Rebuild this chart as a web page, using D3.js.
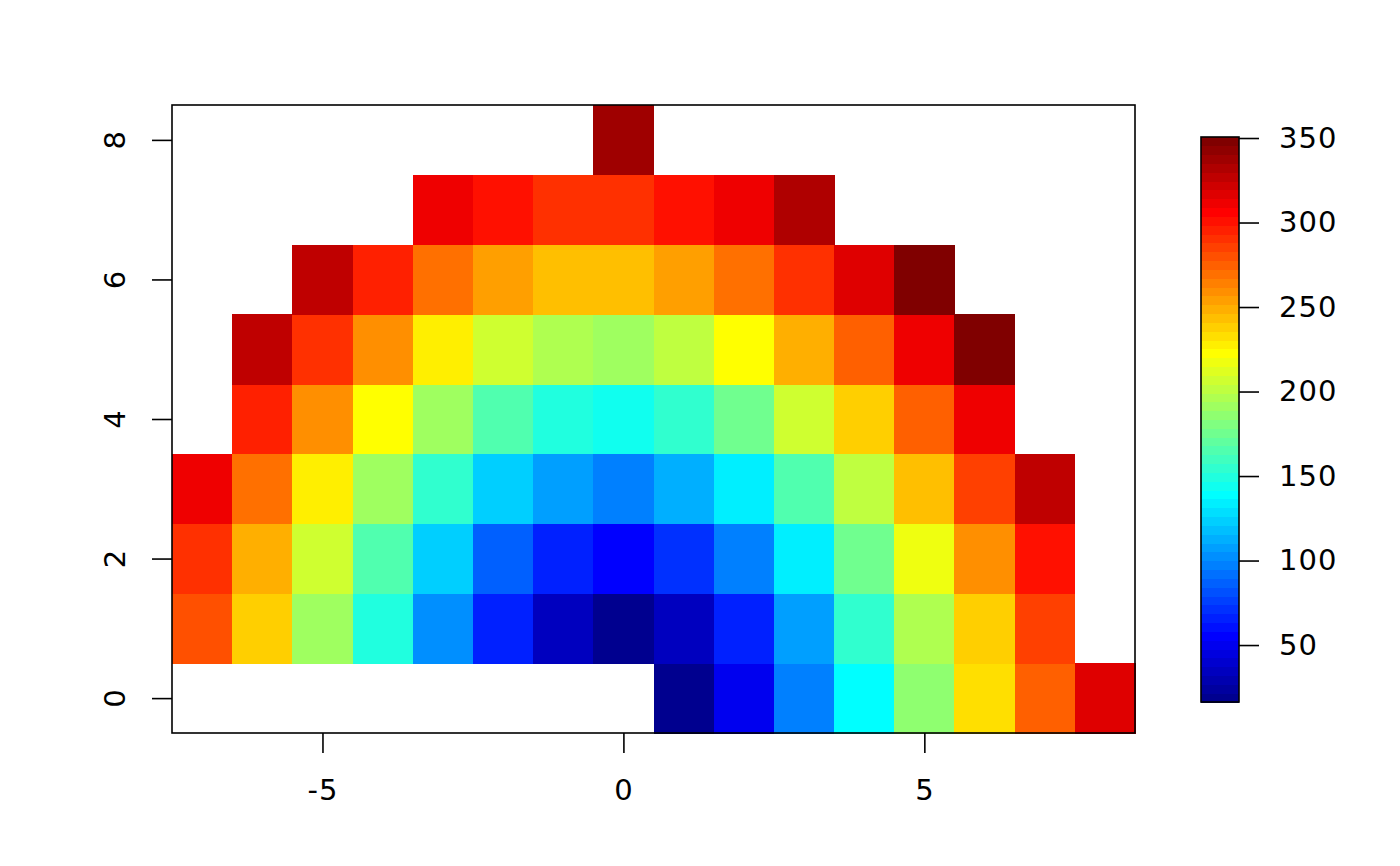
<!DOCTYPE html>
<html>
<head>
<meta charset="utf-8">
<script src="https://cdn.jsdelivr.net/npm/d3@7"></script>
<style>
  html, body { margin: 0; padding: 0; background: #fff; }
  svg { display: block; }
  text { font-family: "DejaVu Sans", sans-serif; fill: #000; }
</style>
</head>
<body>
<svg id="chart" width="1400" height="866"></svg>
<script>
// ---- data ----
const xValues = [-7, -6, -5, -4, -3, -2, -1, 0, 1, 2, 3, 4, 5, 6, 7, 8];
const yValues = [0, 1, 2, 3, 4, 5, 6, 7, 8];
// one row per y value, one entry per x value (null = empty cell)
const row0 = [null, null, null, null, null, null, null, null, 16.3, 50.3, 97.3, 139.1, 186.1, 233.1, 274.9, 316.6];
const row1 = [280.1, 238.3, 191.3, 149.5, 102.5, 65.9, 34.6, 18.9, 34.6, 65.9, 107.7, 154.7, 196.5, 238.3, 285.3, null];
const row2 = [290.5, 248.7, 207.0, 165.2, 123.4, 86.8, 65.9, 55.5, 71.1, 97.3, 133.8, 175.6, 217.4, 259.2, 301.0, null];
const row3 = [311.4, 269.6, 227.8, 191.3, 154.7, 123.4, 107.7, 97.3, 112.9, 133.8, 165.2, 201.7, 243.5, 285.3, 327.1, null];
const row4 = [null, 295.8, 259.2, 222.6, 191.3, 165.2, 149.5, 144.3, 154.7, 175.6, 207.0, 238.3, 274.9, 311.4, null, null];
const row5 = [null, 327.1, 290.5, 259.2, 227.8, 207.0, 196.5, 191.3, 201.7, 222.6, 248.7, 274.9, 311.4, 348.0, null, null];
const row6 = [null, null, 327.1, 295.8, 269.6, 254.0, 243.5, 243.5, 254.0, 269.6, 290.5, 316.6, 350.6, null, null, null];
const row7 = [null, null, null, null, 311.4, 301.0, 290.5, 290.5, 301.0, 311.4, 332.3, null, null, null, null, null];
const row8 = [null, null, null, null, null, null, null, 337.5, null, null, null, null, null, null, null, null];
const zRows = [row0, row1, row2, row3, row4, row5, row6, row7, row8];

const xTicks = [-5, 0, 5];
const yTicks = [0, 2, 4, 6, 8];
const legendTicks = [50, 100, 150, 200, 250, 300, 350];

// ---- palette (tim.colors, 64 levels) ----
const palette = [
  "#00008F","#00009F","#0000AF","#0000BF","#0000CF","#0000DF","#0000EF","#0000FF",
  "#0010FF","#0020FF","#0030FF","#0040FF","#0050FF","#0060FF","#0070FF","#0080FF",
  "#008FFF","#009FFF","#00AFFF","#00BFFF","#00CFFF","#00DFFF","#00EFFF","#00FFFF",
  "#10FFEF","#20FFDF","#30FFCF","#40FFBF","#50FFAF","#60FF9F","#70FF8F","#80FF80",
  "#8FFF70","#9FFF60","#AFFF50","#BFFF40","#CFFF30","#DFFF20","#EFFF10","#FFFF00",
  "#FFEF00","#FFDF00","#FFCF00","#FFBF00","#FFAF00","#FF9F00","#FF8F00","#FF8000",
  "#FF7000","#FF6000","#FF5000","#FF4000","#FF3000","#FF2000","#FF1000","#FF0000",
  "#EF0000","#DF0000","#CF0000","#BF0000","#AF0000","#9F0000","#8F0000","#800000"
];
const nColors = palette.length;

// ---- build cells ----
const cells = [];
yValues.forEach((y, j) => {
  xValues.forEach((x, i) => {
    const v = zRows[j][i];
    if (v !== null) cells.push({ x, y, v });
  });
});
const zExtent = d3.extent(cells, d => d.v);
const colorScale = d3.scaleQuantize().domain(zExtent).range(palette);

// ---- layout ----
const FONT = 29;
const svg = d3.select("#chart");
const plot = { left: 172, right: 1135, top: 105, bottom: 733 };
const xScale = d3.scaleLinear().domain([-7.5, 8.5]).range([plot.left, plot.right]);
const yScale = d3.scaleLinear().domain([-0.5, 8.5]).range([plot.bottom, plot.top]);

svg.append("g").selectAll("rect").data(cells).join("rect")
  .attr("x", d => xScale(d.x - 0.5))
  .attr("y", d => yScale(d.y + 0.5))
  .attr("width", d => xScale(d.x + 0.5) - xScale(d.x - 0.5) + 0.5)
  .attr("height", d => yScale(d.y - 0.5) - yScale(d.y + 0.5) + 0.5)
  .attr("fill", d => colorScale(d.v))
  .attr("shape-rendering", "crispEdges");

// box
svg.append("rect")
  .attr("x", plot.left).attr("y", plot.top)
  .attr("width", plot.right - plot.left).attr("height", plot.bottom - plot.top)
  .attr("fill", "none").attr("stroke", "#000").attr("stroke-width", 1.6);

// x axis
const xAxis = d3.axisBottom(xScale).tickValues(xTicks).tickSize(20).tickPadding(26)
  .tickFormat(d3.format("d"));
const gx = svg.append("g").attr("transform", `translate(0,${plot.bottom})`).call(xAxis);
gx.select(".domain").remove();
gx.selectAll("line").attr("stroke", "#000").attr("stroke-width", 1.6);
gx.selectAll("text").attr("font-size", FONT).attr("font-family", "DejaVu Sans")
  .attr("letter-spacing", 1)
  .text(d => d < 0 ? "-" + Math.abs(d) : d);

// y axis
const yAxis = d3.axisLeft(yScale).tickValues(yTicks).tickSize(20).tickPadding(0).tickFormat(d3.format("d"));
const gy = svg.append("g").attr("transform", `translate(${plot.left},0)`).call(yAxis);
gy.select(".domain").remove();
gy.selectAll("line").attr("stroke", "#000").attr("stroke-width", 1.6);
gy.selectAll("text")
  .attr("font-size", FONT).attr("font-family", "DejaVu Sans")
  .attr("x", null)
  .attr("text-anchor", "middle")
  .attr("transform", "translate(-57,0) rotate(-90)")
  .attr("dy", "0.36em");

// ---- colour bar ----
const bar = { left: 1201, right: 1239, top: 137, bottom: 702 };
const zScale = d3.scaleLinear().domain(zExtent).range([bar.bottom, bar.top]);
const step = (zExtent[1] - zExtent[0]) / nColors;
svg.append("g").selectAll("rect").data(palette).join("rect")
  .attr("x", bar.left)
  .attr("width", bar.right - bar.left)
  .attr("y", (c, i) => zScale(zExtent[0] + (i + 1) * step))
  .attr("height", (c, i) => zScale(zExtent[0] + i * step) - zScale(zExtent[0] + (i + 1) * step) + 0.5)
  .attr("fill", c => c)
  .attr("shape-rendering", "crispEdges");
svg.append("rect")
  .attr("x", bar.left).attr("y", bar.top)
  .attr("width", bar.right - bar.left).attr("height", bar.bottom - bar.top)
  .attr("fill", "none").attr("stroke", "#000").attr("stroke-width", 1.6);
const zAxis = d3.axisRight(zScale).tickValues(legendTicks).tickSize(20).tickPadding(20).tickFormat(d3.format("d"));
const gz = svg.append("g").attr("transform", `translate(${bar.right},0)`).call(zAxis);
gz.select(".domain").remove();
gz.selectAll("line").attr("stroke", "#000").attr("stroke-width", 1.6);
gz.selectAll("text").attr("font-size", FONT).attr("font-family", "DejaVu Sans").attr("letter-spacing", 1);
</script>
</body>
</html>
